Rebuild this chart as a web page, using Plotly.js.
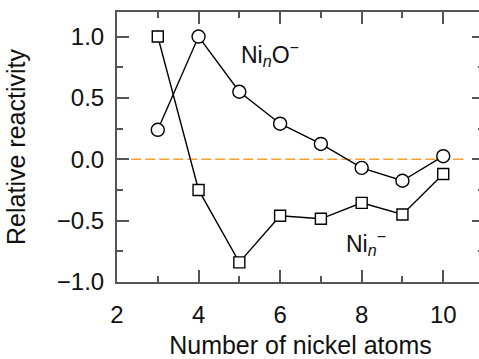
<!DOCTYPE html>
<html>
<head>
<meta charset="utf-8">
<script src="https://cdn.plot.ly/plotly-3.0.1.min.js"></script>
<style>
html, body { margin: 0; padding: 0; overflow: hidden; background: #fff; }
#chart { width: 484px; height: 359px; }
</style>
</head>
<body>
<div id="chart"></div>
<script>
// Number of nickel atoms
const atoms = [3, 4, 5, 6, 7, 8, 9, 10];
// Ni_nO^- relative reactivity (circles)
const niO = [0.24, 1.0, 0.55, 0.29, 0.125, -0.07, -0.175, 0.025];
// Ni_n^- relative reactivity (squares)
const niAnion = [1.0, -0.25, -0.84, -0.46, -0.485, -0.355, -0.45, -0.12];
// Zero reference line extent
const zeroX = [2.35, 10.5];
const zeroY = [0, 0];
const xTicks = [2, 4, 6, 8, 10];
const yTicks = [-1.0, -0.5, 0.0, 0.5, 1.0];
const yTickText = ['\u22121.0', '\u22120.5', '0.0', '0.5', '1.0'];

const FONT = 'Liberation Sans, Arial, sans-serif';
const AX = '#555555';

const traces = [
  {
    x: zeroX, y: zeroY, mode: 'lines', hoverinfo: 'skip',
    line: { color: '#f7a030', width: 1.3, dash: '10px,4px' }
  },
  {
    x: atoms, y: niAnion, mode: 'lines+markers',
    line: { color: '#000', width: 1.4 },
    marker: { symbol: 'square', size: 11, color: '#fff', line: { color: '#000', width: 1.4 } }
  },
  {
    x: atoms, y: niO, mode: 'lines+markers',
    line: { color: '#000', width: 1.4 },
    marker: { symbol: 'circle', size: 13, color: '#fff', line: { color: '#000', width: 1.4 } }
  }
];

const layout = {
  width: 484, height: 359,
  margin: { l: 117, r: 0, t: 12, b: 77 },
  paper_bgcolor: '#fff', plot_bgcolor: '#fff',
  showlegend: false,
  font: { family: FONT, size: 24, color: '#111' },
  xaxis: {
    range: [2, 11], tickvals: xTicks, ticktext: xTicks.map(String),
    showgrid: false, zeroline: false,
    showline: true, linecolor: AX, linewidth: 2, mirror: 'ticks',
    ticks: 'inside', ticklen: 12, tickwidth: 2, tickcolor: AX,
    minor: { dtick: 1, ticks: 'inside', ticklen: 6, tickwidth: 2, tickcolor: AX, showgrid: false },
    tickfont: { size: 24, family: FONT, color: '#111' },
    ticklabelstandoff: 10,
    title: { text: 'Number of nickel atoms', font: { size: 25, family: FONT, color: '#111' }, standoff: 14 }
  },
  yaxis: {
    range: [-1.0, 1.2], tickvals: yTicks, ticktext: yTickText,
    showgrid: false, zeroline: false,
    showline: true, linecolor: AX, linewidth: 2, mirror: 'ticks',
    ticks: 'inside', ticklen: 12, tickwidth: 2, tickcolor: AX,
    minor: { dtick: 0.25, ticks: 'inside', ticklen: 6, tickwidth: 2, tickcolor: AX, showgrid: false },
    tickfont: { size: 24, family: FONT, color: '#111' },
    ticklabelstandoff: 6,
    title: { text: 'Relative reactivity', font: { size: 25, family: FONT, color: '#111' }, standoff: 24 }
  },
  annotations: [
    { x: 5.75, y: 0.86, xref: 'x', yref: 'y', showarrow: false,
      text: 'Ni<sub><i>n</i></sub>O<sup>\u2212</sup>', font: { size: 23, family: FONT, color: '#111' } },
    { x: 8.1, y: -0.68, xref: 'x', yref: 'y', showarrow: false,
      text: 'Ni<sub><i>n</i></sub><sup>\u2212</sup>', font: { size: 23, family: FONT, color: '#111' } }
  ]
};

Plotly.newPlot('chart', traces, layout, { staticPlot: true, displayModeBar: false });
</script>
</body>
</html>
